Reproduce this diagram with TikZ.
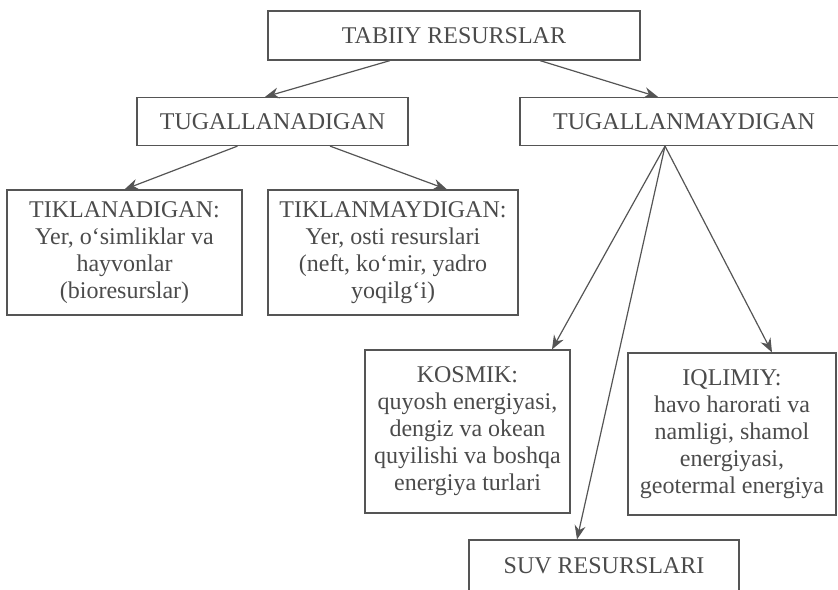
\documentclass[tikz,border=0pt]{standalone}
\usepackage{fontspec}
\setmainfont{Liberation Serif}
\usetikzlibrary{arrows.meta}
\definecolor{resline}{RGB}{85, 85, 85}
\definecolor{restext}{RGB}{75, 75, 75}
\tikzset{
  resbox/.style={draw=resline, line width=0.6pt, text=restext, align=center,
    inner sep=0pt, font=\fontsize{12}{13.5}\selectfont},
  resarrow/.style={draw=resline, line width=0.6pt, -{Stealth[length=7pt, width=5.5pt]}}
}
\begin{document}
\begin{tikzpicture}[x=0.5pt, y=-0.5pt]
      \useasboundingbox (0,0) rectangle (838,589);
      \node[resbox, minimum width=186pt, minimum height=24.5pt] (tabiiy) at (454,35.5) {TABIIY RESURSLAR};
      \node[resbox, minimum width=135.5pt, minimum height=24pt] (tug) at (272.5,121.5) {TUGALLANADIGAN};
      \node[resbox, minimum width=164pt, minimum height=24pt] (tugm) at (684,121.5) {TUGALLANMAYDIGAN};
      \node[resbox, minimum width=117.5pt, minimum height=62.5pt] (tik) at (124.5,252.5) {TIKLANADIGAN:\\Yer, o‘simliklar va\\hayvonlar\\(bioresurslar)};
      \node[resbox, minimum width=125pt, minimum height=62.5pt] (tikm) at (393,252.5) {TIKLANMAYDIGAN:\\Yer, osti resurslari\\(neft, ko‘mir, yadro\\yoqilg‘i)};
      \node[resbox, minimum width=102.5pt, minimum height=81.5pt] (kos) at (467.5,431.5) {KOSMIK:\\quyosh energiyasi,\\dengiz va okean\\quyilishi va boshqa\\energiya turlari};
      \node[resbox, minimum width=104pt, minimum height=81pt] (iql) at (732,434) {IQLIMIY:\\havo harorati va\\namligi, shamol\\energiyasi,\\geotermal energiya};
      \node[resbox, minimum width=135pt, minimum height=26pt] (suv) at (604,566) {SUV RESURSLARI};
      \draw[resarrow] ([xshift=-32pt]tabiiy.south) -- ([xshift=-3.75pt]tug.north);
      \draw[resarrow] ([xshift=43pt]tabiiy.south) -- ([xshift=-13pt]tugm.north);
      \draw[resarrow] ([xshift=-17.5pt]tug.south) -- (tik.north);
      \draw[resarrow] ([xshift=28.75pt]tug.south) -- ([xshift=27pt]tikm.north);
      \coordinate (fork) at ([xshift=-9.5pt]tugm.south);
      \draw[resarrow] (fork) -- ([xshift=42.25pt]kos.north);
      \draw[resarrow] (fork) -- ([xshift=-13.5pt]suv.north);
      \draw[resarrow] (fork) -- ([xshift=20pt]iql.north);
    \end{tikzpicture}
\end{document}
